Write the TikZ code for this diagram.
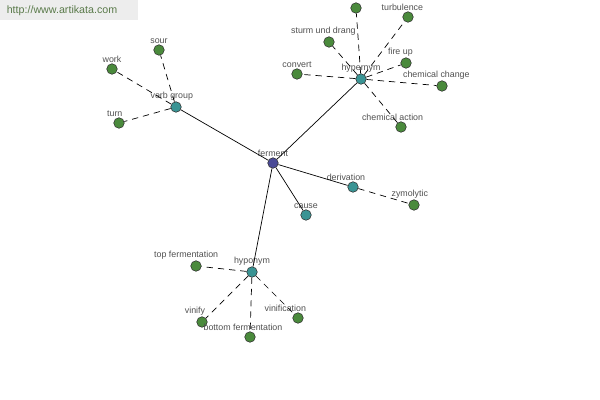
\documentclass[tikz,border=0pt]{standalone}
\usepackage{fontspec}
\setmainfont{Liberation Sans}
\definecolor{leafgreen}{HTML}{4A8A3C}
\definecolor{hubteal}{HTML}{3A9494}
\definecolor{rootblue}{HTML}{4A4A96}
\definecolor{labelgray}{HTML}{505050}
\definecolor{markgreen}{HTML}{5A7A4A}
\tikzset{
    dot/.style={circle,draw=black!80,line width=0.4pt,inner sep=0pt,minimum size=7.5pt},
    leaf/.style={dot,fill=leafgreen},
    hub/.style={dot,fill=hubteal},
    root/.style={dot,fill=rootblue},
    every label/.style={font=\fontsize{6.3}{7}\selectfont,text=labelgray,inner sep=0.6pt},
    link/.style={black,line width=0.5pt},
    weak/.style={black,line width=0.5pt,dash pattern=on 4.5pt off 3.5pt}
}
\begin{document}
\begin{tikzpicture}[x=0.25mm,y=-0.25mm]
\useasboundingbox (0,0) rectangle (600,400);
\fill[black!7] (0,0) rectangle (138,20);
\node[font=\fontsize{7.6}{8}\selectfont,text=markgreen] (site) at (62,11) {http://www.artikata.com};

\node[root,label={above:ferment}] (ferment) at (273,163) {};

\node[hub,label={[xshift=-3]above:verb group}] (verbgroup) at (176,107) {};
\node[hub,label={above:hypernym}] (hypernym) at (361,79) {};
\node[hub,label={[xshift=-5]above:derivation}] (derivation) at (353,187) {};
\node[hub,label={above:cause}] (cause) at (306,215) {};
\node[hub,label={above:hyponym}] (hyponym) at (252,272) {};

\node[leaf,label={above:sour}] (sour) at (159,50) {};
\node[leaf,label={above:work}] (work) at (112,69) {};
\node[leaf,label={[xshift=-3]above:turn}] (turn) at (119,123) {};

\node[leaf] (topleaf) at (356,8) {};
\node[leaf,label={[xshift=-4]above:turbulence}] (turbulence) at (408,17) {};
\node[leaf,label={[xshift=-4]above:sturm und drang}] (sturm) at (329,42) {};
\node[leaf,label={[xshift=-4]above:fire up}] (fireup) at (406,63) {};
\node[leaf,label={above:convert}] (convert) at (297,74) {};
\node[leaf,label={[xshift=-4]above:chemical change}] (chemchange) at (442,86) {};
\node[leaf,label={[xshift=-6]above:chemical action}] (chemaction) at (401,127) {};

\node[leaf,label={[xshift=-3]above:zymolytic}] (zymolytic) at (414,205) {};

\node[leaf,label={[xshift=-7]above:top fermentation}] (topferm) at (196,266) {};
\node[leaf,label={[xshift=-5]above:vinify}] (vinify) at (202,322) {};
\node[leaf,label={[xshift=-5]above:bottom fermentation}] (bottomferm) at (250,337) {};
\node[leaf,label={[xshift=-9]above:vinification}] (vinification) at (298,318) {};

\draw[link] (ferment)--(verbgroup);
\draw[link] (ferment)--(hypernym);
\draw[link] (ferment)--(derivation);
\draw[link] (ferment)--(cause);
\draw[link] (ferment)--(hyponym);

\draw[weak] (verbgroup)--(sour);
\draw[weak] (verbgroup)--(work);
\draw[weak] (verbgroup)--(turn);

\draw[weak] (hypernym)--(topleaf);
\draw[weak] (hypernym)--(turbulence);
\draw[weak] (hypernym)--(sturm);
\draw[weak] (hypernym)--(fireup);
\draw[weak] (hypernym)--(convert);
\draw[weak] (hypernym)--(chemchange);
\draw[weak] (hypernym)--(chemaction);

\draw[weak] (derivation)--(zymolytic);

\draw[weak] (hyponym)--(topferm);
\draw[weak] (hyponym)--(vinify);
\draw[weak] (hyponym)--(bottomferm);
\draw[weak] (hyponym)--(vinification);
\end{tikzpicture}
\end{document}
